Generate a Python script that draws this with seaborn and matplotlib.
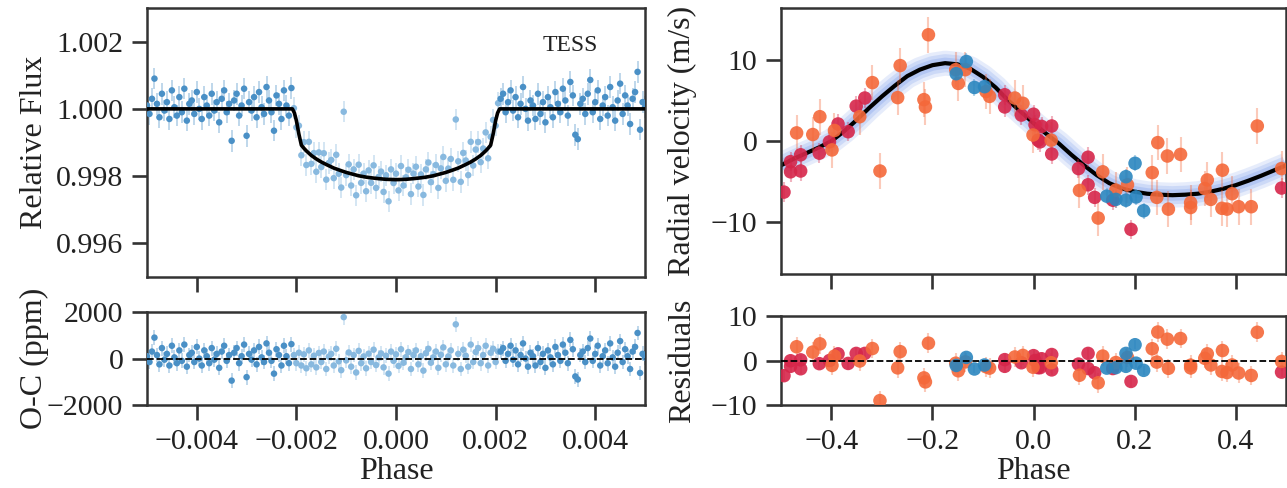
import numpy as np
import pandas as pd
import matplotlib
matplotlib.use("Agg")
import matplotlib.pyplot as plt
from matplotlib.ticker import FuncFormatter
import seaborn as sns

# ---- TESS phase-folded light curve (flux offsets in ppm) ----
lc_phase = np.linspace(-0.005, 0.005, 201)

oot_left = [100, -150, 300, 900, 150, -250, 450, -50, 200, -300,
            550, 50, -200, 350, -100, 600, -350, 150, 250, -150,
            500, 0, -300, 350, 100, -200, 450, -50, 200, -400,
            300, 550, -100, 150, -950, 250, 450, -200, 100, 600,
            -800, 200, -50, 350, -250, 500, 50, -150, 650, 250,
            -100, -650, 400, 150, -300, 550, 100, -200, 620]

transit_flux = [20, -550, -500, -1380, -990, -1670, -980, -1635, -1315, -1870,
                -1295, -1730, -1320, -2105, -1610, -1520, -2060, -1365, -1930, -2340,
                -85, -1970, -1650, -2280, -1800, -2570, -1660, -2200, -1925, -2450,
                -1830, -2200, -1680, -2350, -2025, -1865, -2470, -1975, -2750, -1800,
                -2205, -1925, -2425, -1700, -2280, -2035, -1810, -2535, -1925, -1720,
                -2310, -1950, -2560, -1800, -1595, -2180, -1940, -1670, -2350, -1770,
                -1430, -2140, -1775, -1490, -2110, -315, -1560, -2170, -1310, -1535,
                -1970, -980, -1685, -1210, -985, -1585, -1180, -700, -1470, -830,
                -330, -500, 170]

transit_oc = [150, -200, 250, -300, 180, -420, 350, -250, 120, -380,
              240, -150, 300, -450, 80, 200, -300, 420, -120, -500,
              1780, -80, 260, -350, 150, -600, 330, -200, 90, -420,
              210, -150, 380, -280, 50, 220, -380, 120, -650, 300,
              -100, 180, -320, 400, -180, 60, 280, -450, 150, 350,
              -250, 100, -520, 230, 420, -180, 50, 300, -400, 160,
              480, -250, 90, 350, -300, 1470, 200, -450, 380, 120,
              -350, 600, -150, 280, 450, -200, 150, 550, -300, 250,
              420, -150, 300]

oot_right = [300, 450, -100, 200, 550, -50, 350, -250, 150, 650,
             0, -350, 250, 100, -300, 450, -150, 200, -400, 350,
             50, -250, 500, 150, -100, 600, 250, -200, 800, 400,
             -770, -900, 150, 300, -150, 450, 860, -100, 200, 550,
             -300, 100, 350, -200, 650, 50, -350, 250, 750, -150,
             400, 100, -450, 300, 500, 1100, -620, 200, 50]

lc_err_ppm = 320

transit_model_phase = [-0.005, -0.00208, -0.00204, -0.002, -0.00195, -0.0019, -0.00185,
                       -0.0018, -0.0017, -0.0016, -0.0015, -0.0014, -0.00125, -0.0011,
                       -0.001, -0.00085, -0.00075, -0.0006, -0.0005, -0.00035, -0.0002,
                       0.0, 0.0002, 0.00035, 0.0005, 0.0006, 0.00075, 0.00085, 0.001,
                       0.0011, 0.00125, 0.0014, 0.0015, 0.0016, 0.0017, 0.0018, 0.00185,
                       0.0019, 0.00195, 0.002, 0.00204, 0.00208, 0.005]
transit_model_ppm = [0, 0, -120, -350, -750, -1080, -1170,
                     -1250, -1385, -1490, -1580, -1655, -1760, -1840,
                     -1890, -1950, -1990, -2030, -2050, -2075, -2095,
                     -2105, -2095, -2075, -2050, -2030, -1990, -1950, -1890,
                     -1840, -1760, -1655, -1580, -1490, -1385, -1250, -1170,
                     -1080, -750, -350, -120, 0, 0]

# ---- Radial velocities, three instruments ----
red_phase = [-0.494, -0.481, -0.481, -0.461, -0.461, -0.424, -0.404, -0.387, -0.367, -0.351,
             -0.334, -0.057, -0.057, -0.024, 0.000, 0.003, 0.016, 0.036, 0.009, 0.013,
             0.036, 0.089, 0.108, 0.108, 0.121, 0.157, 0.193, 0.491]
red_rv = [-6.3, -2.55, -3.8, -3.7, -1.7, -1.5, -0.1, 2.1, 1.15, 4.3,
          5.3, 5.7, 4.2, 3.2, 3.3, 2.0, 1.8, 1.85, 0.1, -0.1,
          -1.6, -3.4, -2.0, -5.4, -6.95, -7.3, -10.9, -5.8]
red_res = [-3.4, -0.05, -1.3, -1.85, 0.15, -0.7, 0.0, 1.5, -0.65, 1.6,
           1.6, 0.2, -1.3, -0.5, 1.1, 0.0, 0.4, 1.35, -1.6, -1.6,
           -2.1, -0.8, 1.6, -1.8, -2.75, -1.8, -4.7, -2.6]
red_err = 1.2

orange_phase = [-0.469, -0.437, -0.423, -0.399, -0.394, -0.344, -0.319, -0.304, -0.269, -0.264,
                -0.217, -0.214, -0.208, -0.154, -0.149, -0.135, -0.094, -0.087, -0.037, -0.021,
                -0.001, 0.035, 0.091, 0.128, 0.137, 0.163, 0.186, 0.235, 0.246, 0.244,
                0.265, 0.267, 0.291, 0.311, 0.311, 0.339, 0.344, 0.351, 0.373, 0.374,
                0.383, 0.393, 0.406, 0.431, 0.443, 0.491]
orange_rv = [1.0, 0.8, 3.0, -1.1, 1.3, 3.0, 7.2, -3.7, 5.35, 9.3,
             5.1, 4.2, 13.1, 8.8, 7.1, 8.8, 6.1, 5.5, 5.3, 4.65,
             0.74, 0.1, -6.1, -9.5, -3.8, -6.05, -5.4, -3.9, -0.2, -6.95,
             -1.85, -8.4, -1.65, -7.6, -8.2, -5.85, -4.8, -7.2, -8.3, -3.6,
             -8.4, -6.5, -8.1, -8.1, 1.85, -3.4]
orange_res = [3.1, 1.9, 3.75, -1.1, 1.0, -0.1, 2.7, -9.0, -1.65, 2.0,
              -3.9, -4.8, 3.9, -0.6, -2.3, -0.3, -1.4, -1.7, 0.8, 1.15,
              -1.5, -0.5, -3.3, -5.0, 1.0, -0.45, 0.7, 2.65, 6.4, -0.35,
              4.8, -1.75, 4.95, -1.05, -1.65, 0.5, 1.5, -1.0, -2.45, 2.25,
              -2.7, -1.0, -2.8, -3.35, 6.35, -0.2]
orange_err = 2.2

blue_phase = [-0.153, -0.133, -0.117, -0.097, 0.145, 0.163, 0.183, 0.183, 0.201, 0.203, 0.218]
blue_rv = [8.3, 9.8, 6.6, 6.7, -6.8, -7.2, -4.4, -7.3, -2.75, -6.9, -8.6]
blue_res = [-1.1, 0.7, -1.9, -1.0, -1.7, -1.6, 1.6, -1.3, 3.55, -0.6, -2.2]
blue_err = 1.0

rv_model_phase = [-0.5, -0.475, -0.45, -0.425, -0.4, -0.375, -0.35, -0.325, -0.3, -0.275,
                  -0.25, -0.225, -0.2, -0.175, -0.15, -0.125, -0.1, -0.075, -0.05, -0.025,
                  0.0, 0.025, 0.05, 0.075, 0.1, 0.125, 0.15, 0.175, 0.2, 0.225,
                  0.25, 0.275, 0.3, 0.325, 0.35, 0.375, 0.4, 0.425, 0.45, 0.475, 0.5]
rv_model = [-3.0, -2.2, -1.5, -0.8, 0.0, 1.2, 2.6, 4.1, 5.5, 6.8,
            8.0, 8.8, 9.35, 9.6, 9.45, 8.9, 7.9, 6.6, 5.0, 3.6,
            2.2, 0.9, -0.3, -1.7, -3.0, -4.2, -5.2, -5.85, -6.25, -6.5,
            -6.62, -6.68, -6.62, -6.5, -6.25, -5.9, -5.45, -4.9, -4.3, -3.65, -3.0]

# ---- tables ----
n_left, n_tr = len(oot_left), len(transit_flux)
lc = pd.DataFrame({
    "phase": lc_phase,
    "ppm": oot_left + transit_flux + oot_right,
    "oc": oot_left + transit_oc + oot_right,
    "part": ["out"] * n_left + ["in"] * n_tr + ["out"] * len(oot_right),
})
lc["flux"] = 1 + lc["ppm"] * 1e-6

rv = pd.concat([
    pd.DataFrame({"phase": red_phase, "rv": red_rv, "res": red_res, "err": red_err, "inst": "A"}),
    pd.DataFrame({"phase": orange_phase, "rv": orange_rv, "res": orange_res, "err": orange_err, "inst": "B"}),
    pd.DataFrame({"phase": blue_phase, "rv": blue_rv, "res": blue_res, "err": blue_err, "inst": "C"}),
])

sns.set_theme(style="ticks")
plt.rcParams["font.family"] = ["Liberation Serif", "DejaVu Serif"]
plt.rcParams["axes.edgecolor"] = "#333333"
plt.rcParams["axes.linewidth"] = 1.8

lc_colors = {"out": "#4a90c6", "in": "#88b9df"}
rv_colors = {"A": "#d6264a", "B": "#f4683a", "C": "#2b86bf"}


def fmt(decimals):
    return FuncFormatter(lambda v, pos: f"{v:.{decimals}f}".replace("-", "\u2212"))


fig = plt.figure(figsize=(12.87, 4.88), dpi=100)
ax1 = fig.add_axes([0.1142, 0.4324, 0.3870, 0.5512])
ax2 = fig.add_axes([0.1142, 0.1700, 0.3870, 0.1906])
ax3 = fig.add_axes([0.6068, 0.4385, 0.3925, 0.5451])
ax4 = fig.add_axes([0.6068, 0.1700, 0.3925, 0.1824])

# light curve
for part, c in lc_colors.items():
    sub = lc[lc["part"] == part]
    ax1.errorbar(sub["phase"], sub["flux"], yerr=lc_err_ppm * 1e-6, fmt="none",
                 ecolor=c, alpha=0.45, elinewidth=1.1)
    ax2.errorbar(sub["phase"], sub["oc"], yerr=lc_err_ppm, fmt="none",
                 ecolor=c, alpha=0.45, elinewidth=1.1)
sns.scatterplot(data=lc, x="phase", y="flux", hue="part", palette=lc_colors,
                s=22, linewidth=0, legend=False, ax=ax1, zorder=3)
sns.scatterplot(data=lc, x="phase", y="oc", hue="part", palette=lc_colors,
                s=22, linewidth=0, legend=False, ax=ax2, zorder=3)
tm = pd.DataFrame({"phase": transit_model_phase,
                   "flux": 1 + np.array(transit_model_ppm) * 1e-6})
sns.lineplot(data=tm, x="phase", y="flux", color="black", lw=2.6, ax=ax1,
             zorder=4, sort=False)
ax2.axhline(0, color="black", ls="--", lw=1.3, zorder=4)
ax1.text(0.849, 0.862, "TESS", transform=ax1.transAxes, ha="center", va="center",
         fontsize=17, color="#222222")

# radial velocities
for lw, a in [(18, 0.15), (13, 0.18), (8, 0.22)]:
    ax3.plot(rv_model_phase, rv_model, color="#5b86e5", lw=lw, alpha=a,
             solid_capstyle="butt", zorder=1)
sns.lineplot(x=rv_model_phase, y=rv_model, color="black", lw=3, ax=ax3, zorder=2)
for inst, c in rv_colors.items():
    sub = rv[rv["inst"] == inst]
    ax3.errorbar(sub["phase"], sub["rv"], yerr=sub["err"], fmt="none",
                 ecolor=c, alpha=0.35, elinewidth=1.5, zorder=3)
    ax4.errorbar(sub["phase"], sub["res"], yerr=sub["err"], fmt="none",
                 ecolor=c, alpha=0.35, elinewidth=1.5, zorder=3)
sns.scatterplot(data=rv, x="phase", y="rv", hue="inst", palette=rv_colors,
                s=95, linewidth=0, alpha=0.9, legend=False, ax=ax3, zorder=4)
sns.scatterplot(data=rv, x="phase", y="res", hue="inst", palette=rv_colors,
                s=95, linewidth=0, alpha=0.9, legend=False, ax=ax4, zorder=4)
ax4.axhline(0, color="black", ls="--", lw=1.3, zorder=5)

# axes cosmetics
ax1.set_xlim(-0.005, 0.005)
ax2.set_xlim(-0.005, 0.005)
ax1.set_ylim(0.995, 1.003)
ax2.set_ylim(-2000, 2000)
ax1.set_yticks([0.996, 0.998, 1.000, 1.002])
ax2.set_yticks([-2000, 0, 2000])
for a in (ax1, ax2):
    a.set_xticks([-0.004, -0.002, 0.0, 0.002, 0.004])
ax1.yaxis.set_major_formatter(fmt(3))
ax2.xaxis.set_major_formatter(fmt(3))
ax2.yaxis.set_major_formatter(fmt(0))

ax3.set_xlim(-0.5, 0.5)
ax4.set_xlim(-0.5, 0.5)
ax3.set_ylim(-16.4, 16.4)
ax4.set_ylim(-10, 10)
ax3.set_yticks([-10, 0, 10])
ax4.set_yticks([-10, 0, 10])
for a in (ax3, ax4):
    a.set_xticks([-0.4, -0.2, 0.0, 0.2, 0.4])
    a.yaxis.set_major_formatter(fmt(0))
ax4.xaxis.set_major_formatter(fmt(1))

for a in (ax1, ax2, ax3, ax4):
    a.tick_params(axis="both", which="major", length=11, width=1.9,
                  labelsize=21.5, color="#333333", labelcolor="#222222", pad=6)
    for s in a.spines.values():
        s.set_visible(True)
        s.set_linewidth(1.8)
    a.set_xlabel("")
    a.set_ylabel("")
ax1.tick_params(labelbottom=False)
ax3.tick_params(labelbottom=False)

ax1.set_ylabel("Relative Flux", fontsize=23, color="#222222")
ax2.set_ylabel("O-C (ppm)", fontsize=23, color="#222222")
ax3.set_ylabel("Radial velocity (m/s)", fontsize=23, color="#222222")
ax4.set_ylabel("Residuals", fontsize=23, color="#222222")
ax2.set_xlabel("Phase", fontsize=23, color="#222222", labelpad=2)
ax4.set_xlabel("Phase", fontsize=23, color="#222222", labelpad=2)
for a in (ax1, ax2):
    a.yaxis.set_label_coords(-0.197, 0.5)
for a in (ax3, ax4):
    a.yaxis.set_label_coords(-0.166, 0.5)

fig.savefig("out.png", dpi=100)
